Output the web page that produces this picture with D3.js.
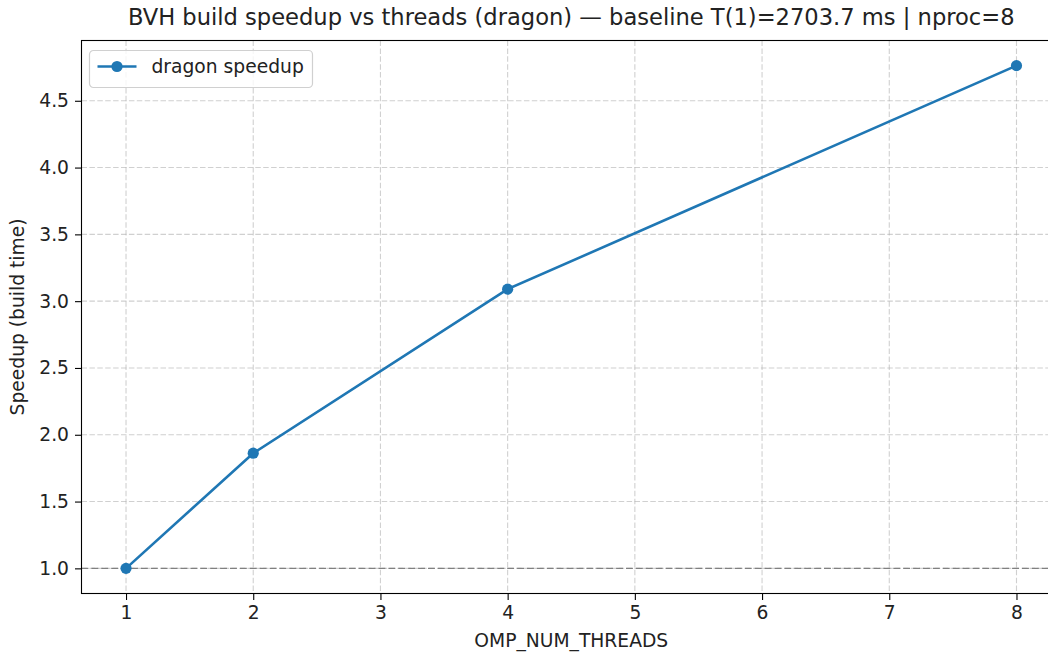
<!DOCTYPE html>
<html>
<head>
<meta charset="utf-8">
<script src="https://cdn.jsdelivr.net/npm/d3@7"></script>
<style>
  html, body { margin: 0; padding: 0; background: #fff; }
  svg { display: block; font-family: "DejaVu Sans", sans-serif; }
</style>
</head>
<body>
<svg id="chart" width="1048" height="656"></svg>
<script>
// Thread counts and measured build speedups relative to T(1)
const threads = [1, 2, 4, 8];
const speedup = [1.0, 1.862, 3.09, 4.763];
const xTicks = [1, 2, 3, 4, 5, 6, 7, 8];
const yTicks = [1.0, 1.5, 2.0, 2.5, 3.0, 3.5, 4.0, 4.5];
const seriesName = "dragon speedup";
const titleText = "BVH build speedup vs threads (dragon) \u2014 baseline T(1)=2703.7 ms | nproc=8";

const W = 1048, H = 656;
const margin = { left: 81.5, top: 40.5, right: -13, bottom: 62.5 };
const plotW = W - margin.left - margin.right;
const plotH = H - margin.top - margin.bottom;
const fs = 18.7;      // tick / label font size
const fsTitle = 22.6; // title font size

const svg = d3.select("#chart");

// 5% padding around data extent
const xPad = (d3.max(threads) - d3.min(threads)) * 0.05;
const yPad = (d3.max(speedup) - d3.min(speedup)) * 0.05;
const x = d3.scaleLinear()
  .domain([d3.min(threads) - xPad, d3.max(threads) + xPad])
  .range([margin.left, margin.left + plotW]);
const y = d3.scaleLinear()
  .domain([d3.min(speedup) - yPad, d3.max(speedup) + yPad])
  .range([margin.top + plotH, margin.top]);

const g = svg.append("g");

// grid
const gridStyle = sel => sel
  .attr("stroke", "#b0b0b0").attr("stroke-opacity", 0.6)
  .attr("stroke-width", 1.1).attr("stroke-dasharray", "5.5,2.4");
g.append("g").selectAll("line").data(xTicks).join("line")
  .attr("x1", d => x(d)).attr("x2", d => x(d))
  .attr("y1", margin.top).attr("y2", margin.top + plotH)
  .call(gridStyle);
g.append("g").selectAll("line").data(yTicks).join("line")
  .attr("x1", margin.left).attr("x2", margin.left + plotW)
  .attr("y1", d => y(d)).attr("y2", d => y(d))
  .call(gridStyle);

// reference line at speedup = 1
g.append("line")
  .attr("x1", margin.left).attr("x2", margin.left + plotW)
  .attr("y1", y(1)).attr("y2", y(1))
  .attr("stroke", "#808080").attr("stroke-width", 1.3)
  .attr("stroke-dasharray", "6.9,3");

// series
const line = d3.line().x((d, i) => x(threads[i])).y(d => y(d));
g.append("path").datum(speedup)
  .attr("d", line).attr("fill", "none")
  .attr("stroke", "#1f77b4").attr("stroke-width", 2.6)
  .attr("stroke-linejoin", "round").attr("stroke-linecap", "round");
g.append("g").selectAll("circle").data(speedup).join("circle")
  .attr("cx", (d, i) => x(threads[i])).attr("cy", d => y(d))
  .attr("r", 5.6).attr("fill", "#1f77b4");

// axes
const xAxis = d3.axisBottom(x).tickValues(xTicks).tickFormat(d3.format("d"))
  .tickSizeOuter(0).tickSize(6.5).tickPadding(6);
const yAxis = d3.axisLeft(y).tickValues(yTicks).tickFormat(d3.format(".1f"))
  .tickSizeOuter(0).tickSize(6.5).tickPadding(6);

const gx = svg.append("g").attr("transform", `translate(0,${margin.top + plotH})`).call(xAxis);
const gy = svg.append("g").attr("transform", `translate(${margin.left},0)`).call(yAxis);
[gx, gy].forEach(a => {
  a.select(".domain").remove();
  a.selectAll(".tick line").attr("stroke", "#000").attr("stroke-width", 1.1);
  a.selectAll(".tick text").attr("fill", "#222").style("font-size", fs + "px")
    .style("font-family", "DejaVu Sans, sans-serif");
});

// spines
svg.append("rect")
  .attr("x", margin.left).attr("y", margin.top)
  .attr("width", plotW).attr("height", plotH)
  .attr("fill", "none").attr("stroke", "#000").attr("stroke-width", 1.1);

// labels
svg.append("text").attr("x", margin.left + plotW / 2).attr("y", 25)
  .attr("text-anchor", "middle").attr("fill", "#222")
  .style("font-size", fsTitle + "px").text(titleText);
svg.append("text").attr("x", margin.left + plotW / 2).attr("y", 647)
  .attr("text-anchor", "middle").attr("fill", "#222")
  .style("font-size", fs + "px").text("OMP_NUM_THREADS");
svg.append("text")
  .attr("transform", `translate(24,${margin.top + plotH / 2}) rotate(-90)`)
  .attr("text-anchor", "middle").attr("fill", "#222")
  .style("font-size", fs + "px").text("Speedup (build time)");

// legend
const lg = svg.append("g").attr("transform", "translate(89.5,50.5)");
lg.append("rect").attr("width", 223).attr("height", 37).attr("rx", 4)
  .attr("fill", "#fff").attr("fill-opacity", 0.8)
  .attr("stroke", "#d0d0d0").attr("stroke-width", 1.2);
lg.append("line").attr("x1", 8).attr("x2", 47).attr("y1", 16).attr("y2", 16)
  .attr("stroke", "#1f77b4").attr("stroke-width", 2.6);
lg.append("circle").attr("cx", 27.5).attr("cy", 16).attr("r", 5.6).attr("fill", "#1f77b4");
lg.append("text").attr("x", 62).attr("y", 22.5).attr("fill", "#222")
  .style("font-size", fs + "px").text(seriesName);
</script>
</body>
</html>
